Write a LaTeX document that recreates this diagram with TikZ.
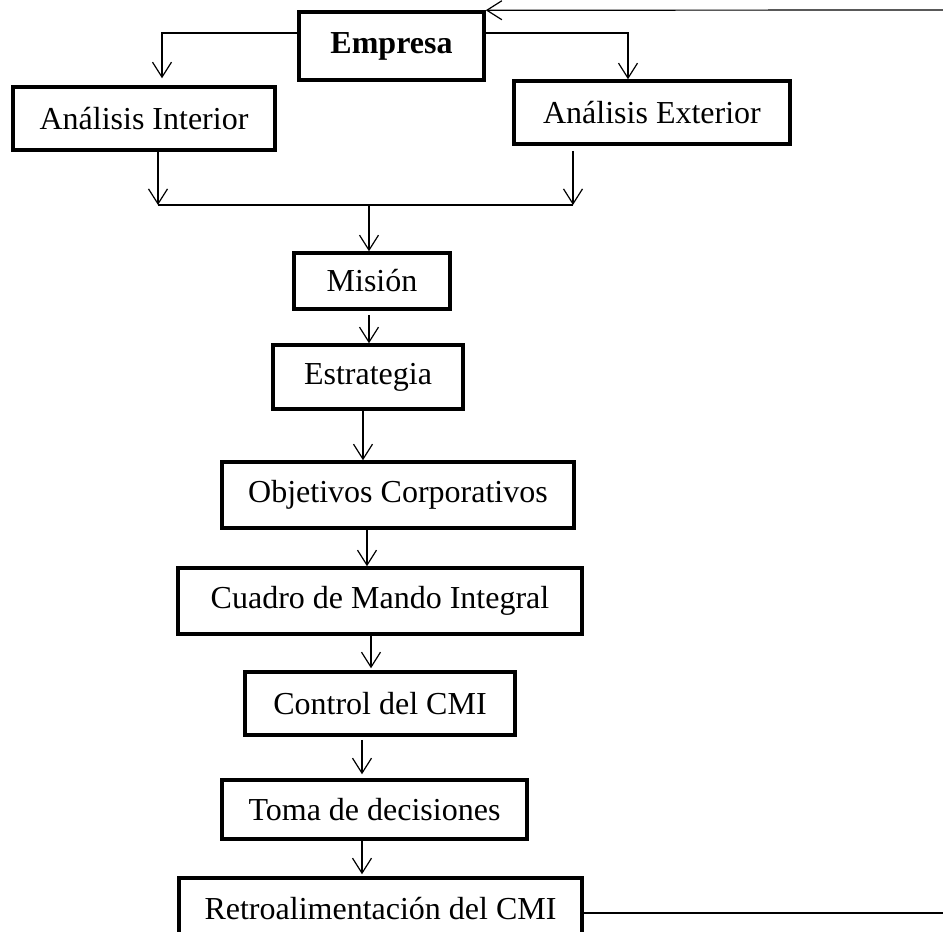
\documentclass[tikz,border=0pt]{standalone}
\usepackage{fontspec}
\setmainfont{Liberation Serif}
\usetikzlibrary{arrows.meta}

\begin{document}
\begin{tikzpicture}
  [x=1pt,y=1pt,
   box/.style={draw,line width=3.5pt,inner sep=0pt,font=\fontsize{32}{38}\selectfont},
   arr/.style={line width=1.2pt,-{Straight Barb[length=15pt,width=19pt,line width=1.2pt]}},
   link/.style={line width=1.2pt}]
  \useasboundingbox (0,0) rectangle (943,-932);

  \node (empresa) at (391.5,-46) [box,minimum width=185pt,minimum height=68pt,font=\fontsize{32}{38}\selectfont\bfseries] {Empresa};
  \node (interior) at (144,-118.5) [box,minimum width=262pt,minimum height=63pt] {Análisis Interior};
  \node (exterior) at (652,-112.5) [box,minimum width=276pt,minimum height=63pt] {Análisis Exterior};

  \coordinate (join) at (369,-205);

  \node (mision) at (372,-281) [box,minimum width=156pt,minimum height=56pt] {Misión};
  \node (estrategia) at (368,-377) [box,minimum width=190pt,minimum height=64pt] {Estrategia};
  \node (objetivos) at (398,-495) [box,minimum width=352pt,minimum height=66pt] {Objetivos Corporativos};
  \node (cuadro) at (380,-601) [box,minimum width=404pt,minimum height=66pt] {Cuadro de Mando Integral};
  \node (control) at (380,-703.5) [box,minimum width=270pt,minimum height=63pt] {Control del CMI};
  \node (toma) at (374.5,-809.5) [box,minimum width=305pt,minimum height=59pt] {Toma de decisiones};
  \node (retro) at (380.5,-909) [box,minimum width=403pt,minimum height=62pt] {Retroalimentación del CMI};

  \coordinate (outtop) at (950,-10);
  \coordinate (outbot) at (950,-913);

  % from the company to both analyses
  \draw [arr] ([yshift=13pt]empresa.west) -| ([xshift=18pt,yshift=7pt]interior.north);
  \draw [arr] ([yshift=13pt]empresa.east) -| ([xshift=-24pt]exterior.north);

  % analyses join into one line
  \draw [arr] ([xshift=14pt]interior.south) -- ([xshift=14pt]interior.south |- join);
  \draw [arr] ([xshift=-79pt,yshift=-5pt]exterior.south) -- ([xshift=-79pt]exterior.south |- join);
  \draw [link] ([xshift=14pt]interior.south |- join) -- ([xshift=-79pt]exterior.south |- join);
  \draw [arr] (join) -- (join |- mision.north);

  % main chain
  \draw [arr] ([xshift=-3pt,yshift=-4pt]mision.south) -- ([xshift=-3pt]mision.south |- estrategia.north);
  \draw [arr] ([xshift=-5pt]estrategia.south) -- ([xshift=-5pt]estrategia.south |- objetivos.north);
  \draw [arr] ([xshift=-31pt]objetivos.south) -- ([xshift=-31pt]objetivos.south |- cuadro.north);
  \draw [arr] ([xshift=-9pt]cuadro.south) -- ([xshift=-9pt,yshift=2pt]cuadro.south |- control.north);
  \draw [arr] ([xshift=-18pt,yshift=-3pt]control.south) -- ([xshift=-18pt,yshift=4pt]control.south |- toma.north);
  \draw [arr] ([xshift=-12.5pt]toma.south) -- ([xshift=-12.5pt,yshift=2pt]toma.south |- retro.north);

  % feedback
  \draw [link] ([yshift=-4pt]retro.east) -- (outbot);
  \draw [arr] (outtop) -- (empresa.north east);
\end{tikzpicture}
\end{document}
